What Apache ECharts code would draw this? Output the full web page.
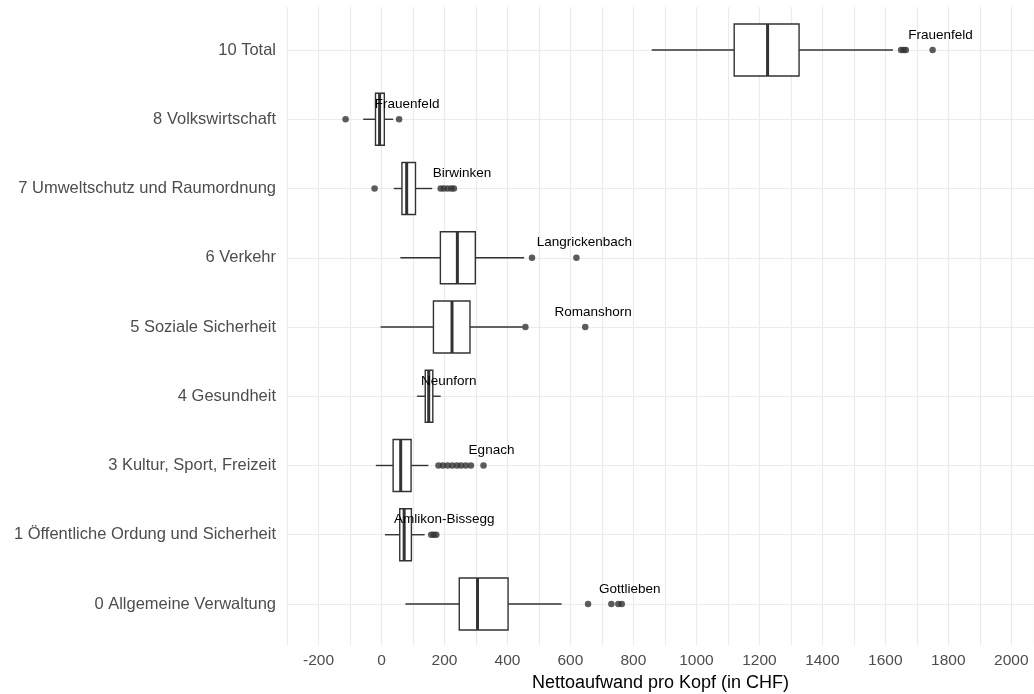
<!DOCTYPE html>
<html>
<head>
<meta charset="utf-8">
<title>Nettoaufwand pro Kopf</title>
<script src="https://cdn.jsdelivr.net/npm/echarts@6/dist/echarts.min.js"></script>
<style>
  html, body { margin: 0; padding: 0; background: #ffffff; }
  #chart { width: 1034px; height: 694px; }
</style>
</head>
<body>
<div id="chart"></div>
<script>
// Functional areas, listed top to bottom
const categories = [
  '10 Total',
  '8 Volkswirtschaft',
  '7 Umweltschutz und Raumordnung',
  '6 Verkehr',
  '5 Soziale Sicherheit',
  '4 Gesundheit',
  '3 Kultur, Sport, Freizeit',
  '1 Öffentliche Ordung und Sicherheit',
  '0 Allgemeine Verwaltung'
];

// Box statistics per area (CHF per inhabitant)
const whiskerLow  = [ 858, -58,  39,  60,  -3, 113, -18,  11,  76];
const quartile1   = [1120, -19,  65, 187, 165, 139,  37,  58, 247];
const median      = [1226,  -6,  80, 241, 224, 150,  61,  72, 305];
const quartile3   = [1326,   9, 108, 298, 281, 163,  94,  95, 402];
const whiskerHigh = [1624,  37, 161, 453, 448, 188, 149, 137, 572];

// Municipalities outside the whiskers
const outliers = [
  [1650, 1658, 1665, 1750],
  [-114, 56],
  [-22, 188, 198, 210, 222, 230],
  [478, 619],
  [457, 647],
  [],
  [181, 195, 210, 225, 240, 253, 268, 284, 324],
  [158, 166, 174],
  [656, 730, 752, 763]
];

// Highest-spending municipality in each area
const topTown  = ['Frauenfeld', 'Frauenfeld', 'Birwinken', 'Langrickenbach', 'Romanshorn',
                  'Neunforn', 'Egnach', 'Amlikon-Bissegg', 'Gottlieben'];
const topValue = [1750, 56, 230, 619, 647, 188, 324, 174, 763];

const xTicks = { min: -300, max: 2072, step: 100, labelStep: 200 };

const INK = '#333333';
const GRID_LINE = '#ebebeb';
const FONT = '"Liberation Sans", Arial, Helvetica, sans-serif';

const boxData = categories.map((c, i) =>
  [i, whiskerLow[i], quartile1[i], median[i], quartile3[i], whiskerHigh[i]]);
const outlierData = [];
outliers.forEach((vals, i) => vals.forEach(v => outlierData.push([v, i])));
const labelData = topValue.map((v, i) => [v, i]);

function renderBox(params, api) {
  const cat = api.value(0);
  const lo = api.coord([api.value(1), cat]);
  const q1 = api.coord([api.value(2), cat]);
  const md = api.coord([api.value(3), cat]);
  const q3 = api.coord([api.value(4), cat]);
  const hi = api.coord([api.value(5), cat]);
  const h = api.size([0, 1])[1] * 0.75;
  const y = md[1];
  const thin = { stroke: INK, lineWidth: 1.4 };
  return {
    type: 'group',
    children: [
      { type: 'line', shape: { x1: lo[0], y1: y, x2: q1[0], y2: y }, style: thin },
      { type: 'line', shape: { x1: q3[0], y1: y, x2: hi[0], y2: y }, style: thin },
      { type: 'rect', shape: { x: q1[0], y: y - h / 2, width: q3[0] - q1[0], height: h },
        style: { fill: '#ffffff', stroke: INK, lineWidth: 1.4 } },
      { type: 'line', shape: { x1: md[0], y1: y - h / 2, x2: md[0], y2: y + h / 2 },
        style: { stroke: INK, lineWidth: 3 } }
    ]
  };
}

function renderLabel(params, api) {
  const p = api.coord([api.value(0), api.value(1)]);
  return {
    type: 'text',
    x: p[0] + 8,
    y: p[1] - 15,
    style: {
      text: topTown[params.dataIndex],
      fill: '#000000',
      font: '13.5px ' + FONT,
      align: 'center',
      verticalAlign: 'middle'
    }
  };
}

const chart = echarts.init(document.getElementById('chart'), null, { renderer: 'canvas' });

chart.setOption({
  backgroundColor: '#ffffff',
  animation: false,
  grid: [
    // panel with the vertical grid lines and the value axis
    { left: 287, right: 0, top: 7, bottom: 49, outerBoundsMode: 'none', containLabel: false },
    // rows of the boxes
    { left: 287, right: 0, top: 15.4, height: 623.2, outerBoundsMode: 'none', containLabel: false }
  ],
  xAxis: [
    {
      gridIndex: 0,
      type: 'value',
      min: xTicks.min,
      max: xTicks.max,
      interval: xTicks.step,
      axisLine: { show: false },
      axisTick: { show: false },
      splitLine: { show: true, lineStyle: { color: GRID_LINE, width: 1.2 } },
      axisLabel: {
        color: '#4d4d4d',
        fontFamily: FONT,
        fontSize: 15.5,
        margin: 8,
        formatter: v => (v % xTicks.labelStep === 0 ? String(v) : '')
      },
      name: 'Nettoaufwand pro Kopf (in CHF)',
      nameLocation: 'middle',
      nameGap: 28,
      nameTextStyle: { color: '#000000', fontFamily: FONT, fontSize: 18 }
    },
    {
      gridIndex: 1,
      type: 'value',
      min: xTicks.min,
      max: xTicks.max,
      show: false
    }
  ],
  yAxis: [
    {
      gridIndex: 0,
      type: 'value',
      min: 0,
      max: 1,
      show: false
    },
    {
      gridIndex: 1,
      type: 'category',
      data: categories,
      inverse: true,
      axisLine: { show: false, onZero: false },
      // inside ticks spanning the panel serve as the horizontal grid lines
      axisTick: {
        show: true,
        inside: true,
        alignWithLabel: true,
        length: 747,
        lineStyle: { color: GRID_LINE, width: 1.2 }
      },
      splitLine: { show: false },
      axisLabel: {
        color: '#4d4d4d',
        fontFamily: FONT,
        fontSize: 16.5,
        margin: 11
      }
    }
  ],
  series: [
    {
      type: 'custom',
      name: 'Boxen',
      xAxisIndex: 1,
      yAxisIndex: 1,
      renderItem: renderBox,
      encode: { x: [1, 2, 3, 4, 5], y: 0 },
      data: boxData,
      z: 3
    },
    {
      type: 'scatter',
      name: 'Ausreisser',
      xAxisIndex: 1,
      yAxisIndex: 1,
      symbol: 'circle',
      symbolSize: 6.5,
      itemStyle: { color: INK },
      data: outlierData,
      z: 4
    },
    {
      type: 'custom',
      name: 'Gemeinden',
      xAxisIndex: 1,
      yAxisIndex: 1,
      renderItem: renderLabel,
      encode: { x: 0, y: 1 },
      data: labelData,
      z: 5
    }
  ]
});
</script>
</body>
</html>
